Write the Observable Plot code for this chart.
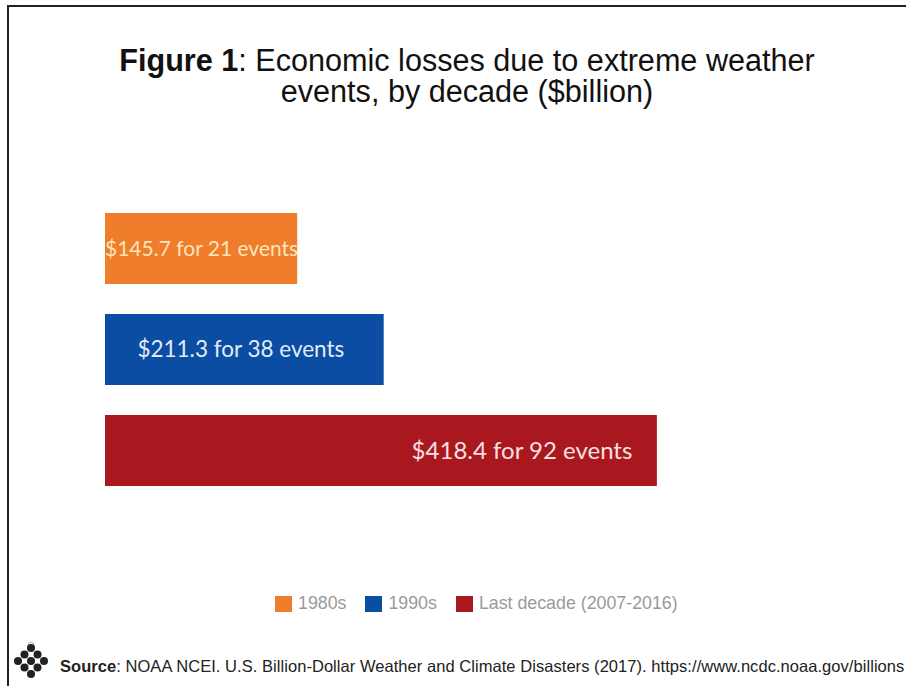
<!DOCTYPE html>
<html>
<head>
<meta charset="utf-8">
<script src="https://cdn.jsdelivr.net/npm/d3@7"></script>
<script src="https://cdn.jsdelivr.net/npm/@observablehq/plot@0.6"></script>
<style>
  html, body { margin: 0; padding: 0; background: #fff; width: 906px; height: 686px; overflow: hidden; }
  #wrap { position: relative; width: 906px; height: 686px; overflow: hidden; }
  #frame { position: absolute; left: 7px; top: 5px; right: -2px; bottom: -2px; border-left: 2px solid #222; border-top: 2px solid #222; }
  #title { position: absolute; left: 28px; width: 878px; top: 45px; text-align: center;
           font-family: "Liberation Sans", Arial, sans-serif; font-size: 30.6px; line-height: 31px; color: #111; }
  #title b { font-weight: bold; }
  #chart { position: absolute; left: 0; top: 180px; }
  #legend { position: absolute; left: 275px; top: 593px; display: flex; align-items: center;
            font-family: "Liberation Sans", Arial, sans-serif; font-size: 17.8px; color: #9a9a9a; white-space: nowrap; }
  #legend .item { display: flex; align-items: center; margin-right: 19px; }
  #legend .sw { width: 17px; height: 16px; margin-right: 6px; }
  #source { position: absolute; left: 60px; top: 657px; white-space: nowrap;
            font-family: "Liberation Sans", Arial, sans-serif; font-size: 16.5px; letter-spacing: 0.05px; color: #222; }
  #logo { position: absolute; left: 2px; top: 636px; }
</style>
</head>
<body>
<div id="wrap">
  <div id="frame"></div>
  <div id="title"><b>Figure 1</b>: Economic losses due to extreme weather<br>events, by decade ($billion)</div>
  <div id="chart"></div>
  <div id="legend"></div>
  <svg id="logo" width="50" height="50"></svg>
  <div id="source"><b>Source</b>: NOAA NCEI. U.S. Billion-Dollar Weather and Climate Disasters (2017). https://www.ncdc.noaa.gov/billions</div>
</div>
<script>
const decades = ["1980s", "1990s", "Last decade (2007-2016)"];
const losses = [145.7, 211.3, 418.4];
const eventCounts = [21, 38, 92];
const barColors = ["#EF7D2B", "#0A4DA3", "#A9171F"];
const labelColors = ["#FCE6BC", "#E2ECF8", "#F9E0E0"];

const data = decades.map((d, i) => ({
  decade: d,
  loss: losses[i],
  events: eventCounts[i],
  label: `$${losses[i].toFixed(1)} for ${eventCounts[i]} events`,
  labelColor: labelColors[i]
}));

const color = { domain: decades, range: barColors };
const byDecade = k => data.filter(d => d.decade === decades[k]);
const font = "Lato, 'Open Sans', sans-serif";

const chart = Plot.plot({
  width: 906,
  height: 332,
  marginLeft: 105,
  marginRight: 141.5,
  marginTop: 17,
  marginBottom: 10,
  x: { domain: [0, 500], axis: null },
  y: { domain: decades, axis: null, paddingInner: 0.3, paddingOuter: 0.15 },
  color,
  marks: [
    Plot.barX(data, { y: "decade", x: "loss", fill: "decade" }),
    Plot.text(byDecade(0), { y: "decade", x: d => d.loss / 2, text: "label", fill: d => d.labelColor,
      fontFamily: font, fontSize: 21, textAnchor: "middle" }),
    Plot.text(byDecade(1), { y: "decade", x: d => d.loss / 2, dx: -4, text: "label", fill: d => d.labelColor,
      fontFamily: font, fontSize: 22.5, textAnchor: "middle" }),
    Plot.text(byDecade(2), { y: "decade", x: "loss", dx: -25, text: "label", fill: d => d.labelColor,
      fontFamily: font, fontSize: 24, textAnchor: "end" })
  ]
});
document.getElementById("chart").appendChild(chart);

// Legend
const legend = d3.select("#legend");
decades.forEach((d, i) => {
  const item = legend.append("div").attr("class", "item");
  item.append("div").attr("class", "sw").style("background", barColors[i]);
  item.append("span").text(d);
});

// Logo (decorative)
const logo = d3.select("#logo");
logo.append("circle").attr("cx", 29).attr("cy", 9).attr("r", 3).attr("fill", "#eee").attr("stroke", "#bbb");
for (let i = -1; i <= 1; i++) for (let j = -1; j <= 1; j++) {
  logo.append("circle").attr("cx", 29 + (i - j) * 6.5).attr("cy", 25 + (i + j) * 6.5).attr("r", 4).attr("fill", "#222");
}
</script>
</body>
</html>
